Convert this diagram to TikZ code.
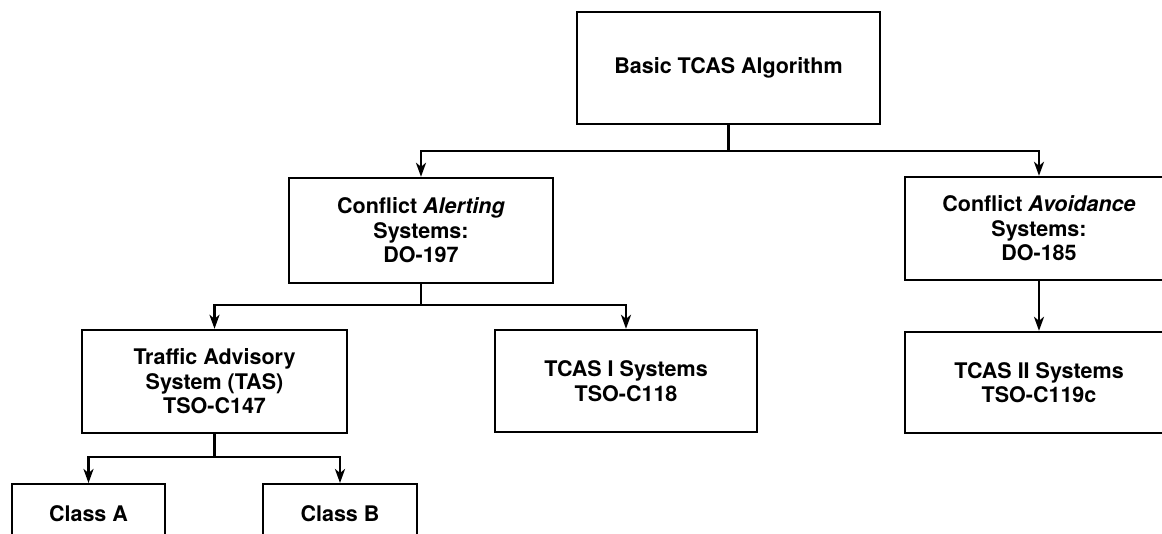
\documentclass[tikz,border=0pt]{standalone}
\usepackage{fontspec}
\setmainfont{TeX Gyre Heros}
\usetikzlibrary{arrows.meta}
\begin{document}
\begin{tikzpicture}[x=1pt,y=-1pt,
  box/.style={draw,line width=2.4pt,inner sep=0pt,align=center,
    font=\fontsize{21.5}{24.5}\selectfont\bfseries},
  link/.style={line width=2.6pt},
  arr/.style={line width=2.6pt,-{Stealth[length=14pt,width=10pt,inset=4pt]}}]
\useasboundingbox (0,0) rectangle (1162,533);
\clip (0,0) rectangle (1162,533);
\node[box,minimum width=303pt,minimum height=112pt] (top) at (728.5,68) {Basic TCAS Algorithm};
\node[box,minimum width=264pt,minimum height=105pt] (ca) at (421,230.5) {Conflict \textit{Alerting}\\Systems:\\DO-197};
\node[box,minimum width=268pt,minimum height=103pt] (cv) at (1039,228.5) {Conflict \textit{Avoidance}\\Systems:\\DO-185};
\node[box,minimum width=265pt,minimum height=103pt] (tas) at (214.5,381.5) {Traffic Advisory\\System (TAS)\\TSO-C147};
\node[box,minimum width=262pt,minimum height=102pt] (t1) at (626,381) {TCAS I Systems\\TSO-C118};
\node[box,minimum width=268pt,minimum height=101pt] (t2) at (1039,382.5) {TCAS II Systems\\TSO-C119c};
\node[box,minimum width=153pt,minimum height=58pt,anchor=north] (cla) at (88.5,483) {Class A};
\node[box,minimum width=154pt,minimum height=58pt,anchor=north] (clb) at (340,483) {Class B};
\coordinate (j1) at (728.5,151);
\coordinate (j2) at (421,305);
\coordinate (j3) at (214.5,457);
\draw[link] (top.south) -- (j1);
\draw[arr] (j1) -| (ca.north);
\draw[arr] (j1) -| (cv.north);
\draw[link] (ca.south) -- (j2);
\draw[arr] (j2) -| (tas.north);
\draw[arr] (j2) -| (t1.north);
\draw[arr] (cv.south) -- (t2.north);
\draw[link] (tas.south) -- (j3);
\draw[arr] (j3) -| (cla.north);
\draw[arr] (j3) -| (clb.north);
\end{tikzpicture}
\end{document}
